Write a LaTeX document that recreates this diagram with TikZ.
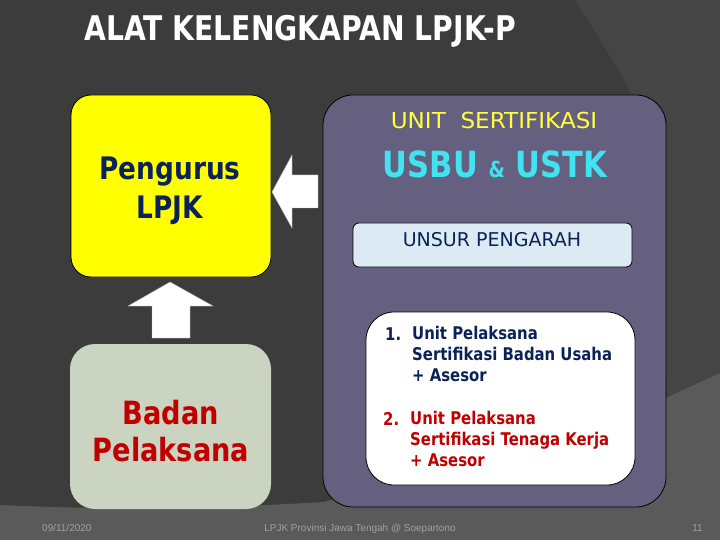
\documentclass[tikz,border=0pt]{standalone}
\usepackage{fontspec}
\setmainfont{DejaVu Sans}[FakeStretch=0.85]
\newfontfamily\titlefont{DejaVu Sans}[FakeStretch=0.83]
\newfontfamily\widefont{DejaVu Sans}[FakeStretch=1.05]
\newfontfamily\plainfont{DejaVu Sans}
\newfontfamily\foot{Liberation Sans}
\definecolor{bgbase}{HTML}{3C3C3C}
\definecolor{bgright}{HTML}{454545}
\definecolor{bgbottom}{HTML}{5A5A5A}
\definecolor{boxyellow}{HTML}{FFFF00}
\definecolor{navy}{HTML}{0A2257}
\definecolor{boxgrey}{HTML}{CBD3C1}
\definecolor{darkred}{HTML}{C00000}
\definecolor{purplebox}{HTML}{666080}
\definecolor{unityellow}{HTML}{FFFF40}
\definecolor{usbucyan}{HTML}{40E4F0}
\definecolor{unsurfill}{HTML}{DCEBF3}
\definecolor{foottext}{HTML}{A0A0A0}
\tikzset{
  blockarrow/.style={fill=white, draw=gray!60, line width=0.4pt},
  boxline/.style={draw=black, line width=0.8pt},
  listtxt/.style={font=\bfseries\fontsize{17.5}{21}\selectfont, inner sep=0pt},
  foottxt/.style={text=foottext, font=\foot\fontsize{10}{12}\selectfont, inner sep=0pt}
}
\begin{document}
\begin{tikzpicture}[x=1pt,y=-1pt]
\useasboundingbox (0,0) rectangle (720,540);
% background
\fill[bgbase] (0,0) rectangle (720,540);
\fill[bgright] (575,0) .. controls (600,40) and (620,70) .. (640,110) -- (668,397) -- (720,373) -- (720,0) -- cycle;
\fill[bgbottom] (0,505) .. controls (150,512) and (250,506) .. (324,502) -- (668,397) -- (720,373) -- (720,540) -- (0,540) -- cycle;
% title
\node[anchor=base west, text=white, inner sep=0pt, font=\titlefont\bfseries\fontsize{34}{40}\selectfont] (title) at (84,41) {ALAT KELENGKAPAN LPJK-P};
% yellow box
\draw[boxline, fill=boxyellow, rounded corners=20pt] (71,95) rectangle (271,277);
\node[text=navy, align=center, font=\bfseries\fontsize{31}{39}\selectfont] (pengurus) at (170,191) {Pengurus\\LPJK};
% grey box
\fill[boxgrey, rounded corners=25pt] (70,344) rectangle (271,509);
\node[text=darkred, align=center, font=\bfseries\fontsize{32}{37}\selectfont] (badan) at (171,431) {Badan\\Pelaksana};
% purple box
\draw[boxline, fill=purplebox, rounded corners=30pt] (323,95) rectangle (666,507);
\node[text=unityellow, font=\widefont\fontsize{22}{26}\selectfont, inner sep=0pt, anchor=base] (unit) at (494,129) {UNIT\ \ SERTIFIKASI};
\node[text=usbucyan, font=\bfseries\fontsize{36}{40}\selectfont, inner sep=0pt, anchor=base] (usbu) at (495,178) {USBU {\fontsize{22}{26}\selectfont\&} USTK};
% unsur pengarah
\draw[boxline, fill=unsurfill, rounded corners=6pt] (353,223) rectangle (632,267);
\node[text=navy, font=\plainfont\fontsize{19}{22}\selectfont, inner sep=0pt, anchor=base] (unsur) at (492,247) {UNSUR PENGARAH};
% white box
\draw[boxline, fill=white, rounded corners=28pt] (366,312) rectangle (635,485);
\node[listtxt, text=navy, anchor=base west] (n1) at (385,340) {1.};
\node[listtxt, text=navy, anchor=north west, align=left] (u1) at (412,326) {Unit Pelaksana\\Sertifikasi Badan Usaha\\+ Asesor};
\node[listtxt, text=darkred, anchor=base west] (n2) at (383,425) {2.};
\node[listtxt, text=darkred, anchor=north west, align=left] (u2) at (410,411) {Unit Pelaksana\\Sertifikasi Tenaga Kerja\\+ Asesor};
% block arrows
\draw[blockarrow] (272,192) -- (292,155) -- (292,175) -- (318,175) -- (318,208) -- (292,208) -- (292,228) -- cycle;
\draw[blockarrow] (170,282) -- (213,306) -- (190,306) -- (190,338) -- (152,338) -- (152,306) -- (128,306) -- cycle;
% footer
\node[foottxt, anchor=base west] (date) at (42,531) {09/11/2020};
\node[foottxt, anchor=base] (credit) at (360,531) {LPJK Provinsi Jawa Tengah @ Soepartono};
\node[foottxt, anchor=base east] (page) at (703,531) {11};
\end{tikzpicture}
\end{document}
